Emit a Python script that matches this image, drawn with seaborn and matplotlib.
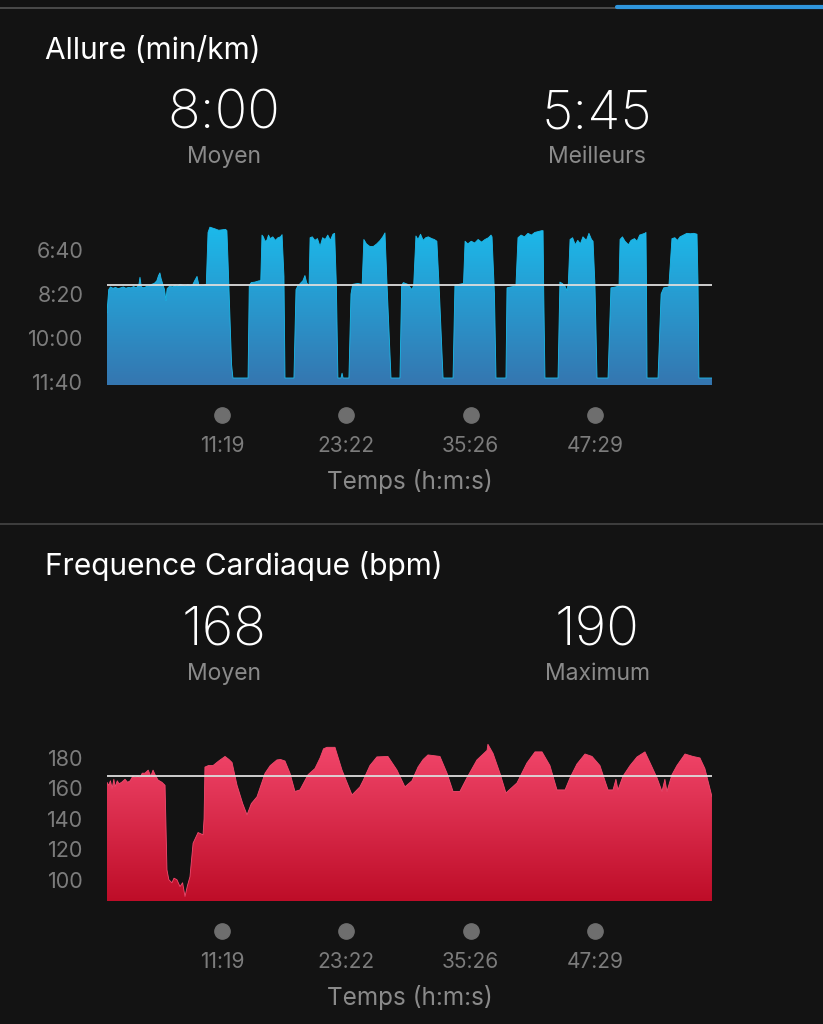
import seaborn as sns
import matplotlib.pyplot as plt
import matplotlib.transforms as mtransforms
from matplotlib.lines import Line2D
import numpy as np

# pace (seconds per km) over elapsed time (seconds)
pace_time = [10, 20, 30, 45, 60, 75, 90, 105, 120, 135, 150, 165, 180, 195, 202, 210, 225, 240, 255, 270,
             285, 300, 310, 318, 325, 335, 345, 353, 360, 375, 390, 405, 420, 435, 450, 465, 480, 495, 510, 520,
             534, 545, 560, 575, 588,
             598, 609, 625, 640, 660, 680, 700, 708, 714, 735, 743, 831,
             838, 850, 870, 895, 905, 912, 920, 930, 940, 950, 960, 975, 990, 1005, 1020, 1029, 1040, 1046, 1098,
             1110, 1120, 1135, 1150, 1162, 1172, 1186, 1192, 1205, 1220, 1235, 1250, 1265, 1280, 1295, 1310, 1325,
             1335, 1345, 1354, 1372, 1378, 1384, 1418,
             1430, 1440, 1470, 1495, 1505, 1520, 1540, 1560, 1580, 1600, 1615, 1628, 1640, 1663, 1715,
             1725, 1735, 1760, 1785, 1795, 1808, 1820, 1835, 1850, 1865, 1880, 1900, 1915, 1930, 1945, 1966, 2024,
             2035, 2060, 2085, 2094, 2110, 2130, 2150, 2170, 2190, 2210, 2230, 2245, 2251, 2265, 2274, 2332,
             2338, 2360, 2390, 2402, 2420, 2440, 2460, 2480, 2500, 2520, 2540, 2548, 2552, 2559, 2635,
             2646, 2660, 2675, 2687, 2695, 2705, 2720, 2735, 2750, 2765, 2780, 2800, 2815, 2830, 2839, 2850, 2862, 2926,
             2943, 2970, 2990, 2996, 3010, 3025, 3045, 3060, 3080, 3095, 3110, 3125, 3140, 3147, 3150, 3153, 3217,
             3235, 3250, 3280, 3298, 3315, 3330, 3345, 3365, 3385, 3405, 3425, 3444, 3450, 3455, 3531]
pace_sec = [543, 490, 484, 487, 485, 488, 486, 484, 487, 485, 486, 483, 486, 480, 462, 484, 486, 483, 482, 478,
            476, 470, 458, 452, 465, 478, 490, 515, 488, 482, 484, 481, 483, 478, 480, 482, 479, 481, 478, 470,
            460, 480, 482, 480, 478,
            360, 348, 350, 352, 355, 354, 353, 356, 420, 660, 691, 691,
            480, 474, 473, 470, 470, 366, 370, 380, 378, 366, 374, 370, 378, 372, 370, 365, 460, 691, 691,
            490, 482, 476, 470, 458, 474, 483, 372, 370, 378, 374, 392, 372, 376, 366, 378, 364,
            362, 480, 691, 691, 680, 691, 691,
            500, 478, 476, 478, 376, 386, 392, 392, 386, 378, 370, 361, 480, 691, 691,
            480, 474, 478, 490, 480, 368, 376, 364, 378, 372, 370, 374, 376, 380, 500, 691, 691,
            480, 478, 476, 380, 386, 380, 384, 376, 382, 376, 372, 366, 370, 500, 691, 691,
            486, 484, 482, 372, 366, 370, 362, 366, 360, 358, 356, 356, 500, 691, 691,
            473, 476, 482, 492, 476, 376, 372, 388, 378, 386, 370, 378, 362, 376, 380, 480, 691, 691,
            486, 484, 482, 376, 370, 380, 388, 378, 374, 380, 366, 364, 362, 360, 480, 691, 691,
            500, 486, 484, 374, 372, 378, 370, 366, 362, 363, 362, 364, 480, 691, 691]

# heart rate (bpm) over elapsed time (seconds)
hr_time = [10, 20, 30, 40, 50, 57, 70, 80, 95, 115, 130, 145, 160, 173, 190, 202, 215, 231, 250, 265,
           278, 290, 307, 330, 348, 359, 370, 388, 400, 417, 435, 450, 464, 478, 493, 511, 540, 569, 575,
           580, 600, 627, 660, 697, 720, 738, 767, 800, 825, 850, 883, 930, 960, 999, 1020, 1046, 1075, 1104,
           1133, 1180, 1220, 1250, 1270, 1290, 1337, 1378, 1436, 1482, 1500, 1540, 1581, 1645, 1698, 1744, 1785,
           1820, 1850, 1878, 1948, 1989, 2024, 2064, 2105, 2163, 2222, 2227, 2257, 2297, 2332, 2396, 2454,
           2501, 2542, 2588, 2629, 2676, 2705, 2745, 2792, 2833, 2879, 2926, 2955, 2972, 2984, 3013, 3054,
           3095, 3141, 3170, 3211, 3240, 3257, 3269, 3298, 3327, 3374, 3420, 3461, 3490, 3531]
hr_bpm = [164, 162, 165, 160, 166, 161, 165, 163, 164, 166, 164, 165, 168, 167, 168, 167, 170, 170, 172, 168,
          172, 169, 165.5, 164, 162, 106.5, 100, 98, 101, 100, 95.5, 98, 89, 96, 102, 124, 131, 129.5, 140,
          174, 175, 175, 178, 181, 179, 177, 162, 150, 142.6, 150, 154.5, 170, 175, 178.7, 179, 178, 170, 158,
          159, 169, 173, 180, 186, 187, 187, 172, 155.7, 161, 165, 175, 180.7, 181, 172, 161, 165,
          174, 179, 182, 181, 170, 158, 158, 167, 178.7, 185, 189, 183, 170, 157, 163.6, 176.7,
          184, 184, 175, 159, 159, 167, 176, 182.6, 181, 175, 159, 159, 166, 159, 168, 175,
          180.7, 184, 177, 167, 158, 166, 158, 169, 175, 182.6, 181, 180, 173, 154.5]

pace_avg = 480
hr_avg = 168
time_ticks = [679, 1402, 2126, 2849]
time_labels = ['11:19', '23:22', '35:26', '47:29']
pace_ticks = [400, 500, 600, 700]
pace_labels = ['6:40', '8:20', '10:00', '11:40']
hr_ticks = [100, 120, 140, 160, 180]

bg = '#131313'
sns.set_theme(style='dark', rc={'axes.facecolor': bg, 'figure.facecolor': bg})
plt.rcParams['font.family'] = ['Inter', 'DejaVu Sans']

fig = plt.figure(figsize=(8.23, 10.24), dpi=100)


def gradient_area(ax, x, y, base, top_color, bottom_color):
    sns.lineplot(x=x, y=y, ax=ax, color=top_color, linewidth=0.6, sort=False, estimator=None)
    poly = ax.fill_between(x, y, base, facecolor='none', edgecolor='none')
    c1 = np.array(plt.matplotlib.colors.to_rgb(top_color))
    c2 = np.array(plt.matplotlib.colors.to_rgb(bottom_color))
    f = np.linspace(0, 1, 256)[:, None]
    img = (c1 * (1 - f) + c2 * f)[:, None, :]
    im = ax.imshow(img, extent=[0, 1, 0, 1], transform=ax.transAxes, aspect='auto',
                   origin='upper', zorder=1)
    im.set_clip_path(poly.get_paths()[0], transform=ax.transData)


def style_axes(ax, dot_y):
    for s in ax.spines.values():
        s.set_visible(False)
    ax.grid(False)
    ax.set_xlim(10, 3531)
    ax.set_xticks(time_ticks, time_labels)
    ax.tick_params(axis='x', length=0, pad=37, labelsize=15, labelcolor='#7c7c7c')
    ax.tick_params(axis='y', length=0, pad=17, labelsize=15.5, labelcolor='#7c7c7c')
    ax.set_xlabel('')
    ax.set_ylabel('')
    trans = mtransforms.blended_transform_factory(ax.transData, ax.transAxes)
    ax.plot(time_ticks, [dot_y] * len(time_ticks), 'o', ms=11, color='#6e6e6e',
            transform=trans, clip_on=False)


# pace panel
ax1 = fig.add_axes([0.1300, 0.6240, 0.7351, 0.1576])
gradient_area(ax1, pace_time, pace_sec, 707, '#1bbbec', '#3576b0')
ax1.axhline(pace_avg, color='#dddddd', linewidth=1.3, zorder=3)
ax1.set_ylim(707, 340)
ax1.set_yticks(pace_ticks, pace_labels)
style_axes(ax1, -0.186)

# heart rate panel
ax2 = fig.add_axes([0.1300, 0.1201, 0.7351, 0.1620])
gradient_area(ax2, hr_time, hr_bpm, 86, '#f54a6f', '#be0d28')
ax2.axhline(hr_avg, color='#dddddd', linewidth=1.3, zorder=3)
ax2.set_ylim(86, 195)
ax2.set_yticks(hr_ticks)
style_axes(ax2, -0.181)

# separators
fig.add_artist(Line2D([0, 1], [0.9917, 0.9917], transform=fig.transFigure, color='#5a5a5a', lw=1.1))
fig.add_artist(Line2D([0.7497, 1], [0.9932, 0.9932], transform=fig.transFigure, color='#2f95dc', lw=3))
fig.add_artist(Line2D([0, 1], [0.4883, 0.4883], transform=fig.transFigure, color='#4a4a4a', lw=1.1))

# headers and summary values
white = '#ffffff'
grey = '#8a8a8a'
for title, y in [('Allure (min/km)', 0.9500), ('Frequence Cardiaque (bpm)', 0.4471)]:
    fig.text(0.0547, y, title, color=white, fontsize=21.5, ha='left', va='center')
for val, lab, x, y in [('8:00', 'Moyen', 0.2722, 0.8885), ('5:45', 'Meilleurs', 0.7254, 0.8885),
                       ('168', 'Moyen', 0.2722, 0.3836), ('190', 'Maximum', 0.7254, 0.3836)]:
    fig.text(x, y, val, color=white, fontsize=39, ha='center', va='center', fontweight='light')
    fig.text(x, y - 0.0420, lab, color=grey, fontsize=16.5, ha='center', va='center')
for y in [0.5293, 0.0263]:
    fig.text(0.4976, y, 'Temps (h:m:s)', color=grey, fontsize=17.5, ha='center', va='center')

plt.savefig('out.png', dpi=100, facecolor=bg)
